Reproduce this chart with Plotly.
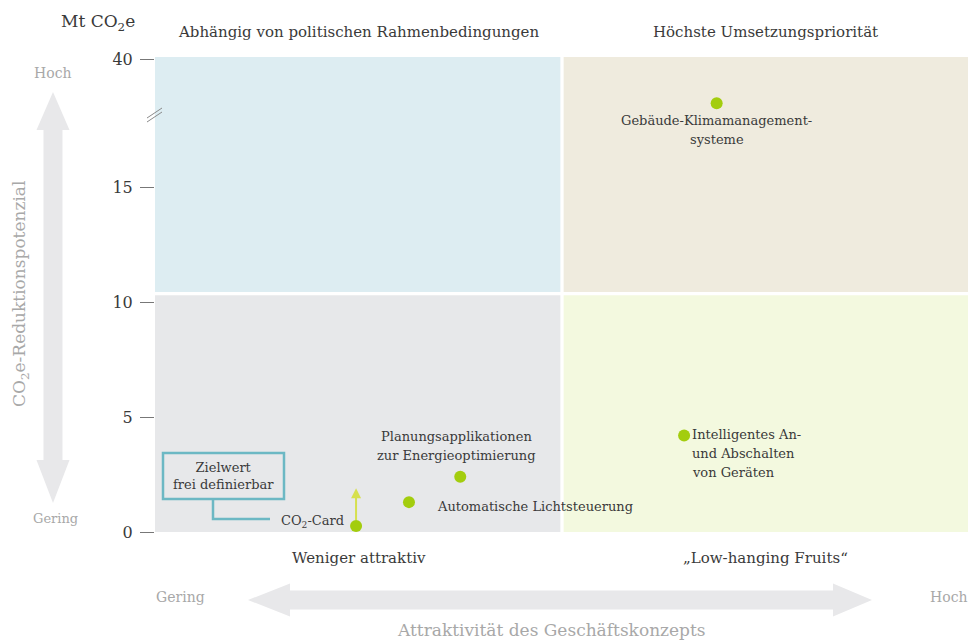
import plotly.graph_objects as go

# ---------------- data ----------------
names = ["Gebäude-Klimamanagement-<br>systeme",
         "Intelligentes An-<br>und Abschalten<br>von Geräten",
         "Planungsapplikationen<br>zur Energieoptimierung",
         "Automatische Lichtsteuerung",
         "CO<sub>2</sub>-Card"]
attractiveness = [6.9, 6.5, 3.75, 3.12, 2.47]      # 0..10 scale
reduction = [31.4, 4.2, 2.4, 1.3, 0.26]            # Mt CO2e
co2card_target = 1.9
y_tick_values = [0, 5, 10, 15, 40]
y_tick_labels = ["0", "5", "10", "15", "40"]
quadrant_titles_top = ["Abhängig von politischen Rahmenbedingungen", "Höchste Umsetzungspriorität"]
quadrant_titles_bottom = ["Weniger attraktiv", "„Low-hanging Fruits“"]

# axis break: values above 15 are compressed
BREAK = 15
COMP = 5.57 / 25.0
def disp(v):
    return v if v <= BREAK else BREAK + (v - BREAK) * COMP

OFF = 8  # page body margin
W, H = 976 - OFF, 641 - OFF
# plot area in page pixels: x 155..969, y 57..532
L, T = 155 - OFF, 57 - OFF
R = W - (969 - OFF)
B = H - (532 - OFF)
PW, PH = W - L - R, H - T - B
def px(x):  # page x -> paper
    return (x - OFF - L) / PW
def py(y):  # page y -> paper
    return (H - B - (y - OFF)) / PH

FONT = "DejaVu Serif"
DARK = "#3a3a3a"
GREY = "#a8a8a8"
GREEN = "#a3cd0e"

YMAX = 20.67
XSPLIT = 5.0
YSPLIT = 10.37

fig = go.Figure()

shapes = []
# quadrants
quad = [
    (0, XSPLIT - 0.02, YSPLIT + 0.07, YMAX, "#ddedf2"),
    (XSPLIT + 0.02, 10, YSPLIT + 0.07, YMAX, "#efebde"),
    (0, XSPLIT - 0.02, 0, YSPLIT - 0.07, "#e7e8ea"),
    (XSPLIT + 0.02, 10, 0, YSPLIT - 0.07, "#f3f9df"),
]
for x0, x1, y0, y1, c in quad:
    shapes.append(dict(type="rect", xref="x", yref="y", x0=x0, x1=x1, y0=y0, y1=y1,
                       fillcolor=c, line=dict(width=0), layer="below"))

# big grey arrows
AC = "#e8e8ea"
cx, t_tip, t_base, b_base, b_tip, hw, sw = 53, 92, 130, 460, 503, 16.5, 9.5
pts = [(cx, t_tip), (cx + hw, t_base), (cx + sw, t_base), (cx + sw, b_base), (cx + hw, b_base),
       (cx, b_tip), (cx - hw, b_base), (cx - sw, b_base), (cx - sw, t_base), (cx - hw, t_base)]
path = "M " + " L ".join(f"{px(a):.5f},{py(b):.5f}" for a, b in pts) + " Z"
shapes.append(dict(type="path", xref="paper", yref="paper", path=path, fillcolor=AC, line=dict(width=0)))
cy, l_tip, l_base, r_base, r_tip = 600, 248, 290, 833, 872
pts = [(l_tip, cy), (l_base, cy - hw), (l_base, cy - sw), (r_base, cy - sw), (r_base, cy - hw),
       (r_tip, cy), (r_base, cy + hw), (r_base, cy + sw), (l_base, cy + sw), (l_base, cy + hw)]
path = "M " + " L ".join(f"{px(a):.5f},{py(b):.5f}" for a, b in pts) + " Z"
shapes.append(dict(type="path", xref="paper", yref="paper", path=path, fillcolor=AC, line=dict(width=0)))

# axis break marks
for off in (0, 4):
    shapes.append(dict(type="line", xref="paper", yref="paper",
                       x0=px(147), y0=py(118 + off), x1=px(162), y1=py(108 + off),
                       line=dict(color="#8a8a8a", width=1)))

# Zielwert box + connector
TEAL = "#6cb8c4"
shapes.append(dict(type="rect", xref="paper", yref="paper", x0=px(163), x1=px(284),
                   y0=py(499), y1=py(453), line=dict(color=TEAL, width=2.5), fillcolor="rgba(0,0,0,0)"))
shapes.append(dict(type="path", xref="paper", yref="paper",
                   path=f"M {px(213)},{py(499)} L {px(213)},{py(519)} L {px(270)},{py(519)}",
                   line=dict(color=TEAL, width=2.5)))

# data points
fig.add_trace(go.Scatter(x=attractiveness, y=[disp(v) for v in reduction], mode="markers",
                         marker=dict(size=12, color=GREEN), hoverinfo="skip", showlegend=False,
                         cliponaxis=False))

ann = []
def A(**k):
    d = dict(showarrow=False, font=dict(family=FONT, size=13, color=DARK),
             xanchor="center", yanchor="middle")
    d.update(k)
    ann.append(d)

LH = 19  # label line height in px
def label(i, first_shift, xanchor, xshift=0):
    for j, line in enumerate(names[i].split("<br>")):
        A(x=attractiveness[i], y=disp(reduction[i]), text=line, xanchor=xanchor,
          yanchor="middle", xshift=xshift, yshift=first_shift - j * LH)

# point labels
label(0, -17, "center")
label(1, 1, "left", xshift=6)
label(2, 40, "center", xshift=-4)
label(3, -4, "left", xshift=26)
label(4, 5, "right", xshift=-10)

# target arrow for CO2-Card
ann.append(dict(x=attractiveness[4], y=disp(co2card_target), ax=attractiveness[4], ay=disp(reduction[4]) + 0.2,
                xref="x", yref="y", axref="x", ayref="y", showarrow=True, arrowhead=2, arrowsize=1,
                arrowwidth=2, arrowcolor="#d6e04e", text=""))

# Zielwert text
A(x=px(223.5), y=py(476), xref="paper", yref="paper", text="Zielwert<br>frei definierbar")

# quadrant titles
A(x=XSPLIT / 2, y=py(32), xref="x", yref="paper", text=quadrant_titles_top[0], font=dict(family=FONT, size=15, color=DARK))
A(x=XSPLIT + (10 - XSPLIT) / 2, y=py(32), xref="x", yref="paper", text=quadrant_titles_top[1], font=dict(family=FONT, size=15, color=DARK))
A(x=XSPLIT / 2, y=py(558), xref="x", yref="paper", text=quadrant_titles_bottom[0], font=dict(family=FONT, size=15, color=DARK))
A(x=XSPLIT + (10 - XSPLIT) / 2, y=py(558), xref="x", yref="paper", text=quadrant_titles_bottom[1], font=dict(family=FONT, size=15, color=DARK))

# unit
A(x=px(98), y=py(22), xref="paper", yref="paper", text="Mt CO<sub>2</sub>e", font=dict(family=FONT, size=17, color=DARK))

# axis descriptions
A(x=px(53), y=py(73), xref="paper", yref="paper", text="Hoch", font=dict(family=FONT, size=14, color=GREY))
A(x=px(55), y=py(518), xref="paper", yref="paper", text="Gering", font=dict(family=FONT, size=13, color=GREY))
A(x=px(20), y=py(294), xref="paper", yref="paper", text="CO<sub>2</sub>e-Reduktionspotenzial", textangle=-90,
  font=dict(family=FONT, size=17, color=GREY))
A(x=px(180), y=py(597), xref="paper", yref="paper", text="Gering", font=dict(family=FONT, size=14, color=GREY))
A(x=px(949), y=py(597), xref="paper", yref="paper", text="Hoch", font=dict(family=FONT, size=14, color=GREY))
A(x=px(551), y=py(630), xref="paper", yref="paper", text="Attraktivität des Geschäftskonzepts",
  font=dict(family=FONT, size=17, color=GREY))

fig.update_layout(
    width=W, height=H, margin=dict(l=L, r=R, t=T, b=B),
    paper_bgcolor="white", plot_bgcolor="white",
    shapes=shapes, annotations=ann, showlegend=False,
    xaxis=dict(range=[0, 10], visible=False, showgrid=False, zeroline=False),
    yaxis=dict(range=[0, YMAX], showgrid=False, zeroline=False, showline=False,
               tickvals=[disp(v) for v in y_tick_values], ticktext=y_tick_labels,
               ticks="outside", ticklen=14, tickcolor="#777", tickwidth=1,
               ticklabelstandoff=4,
               tickfont=dict(family=FONT, size=16, color=DARK)),
)

fig.write_html("out.html")
